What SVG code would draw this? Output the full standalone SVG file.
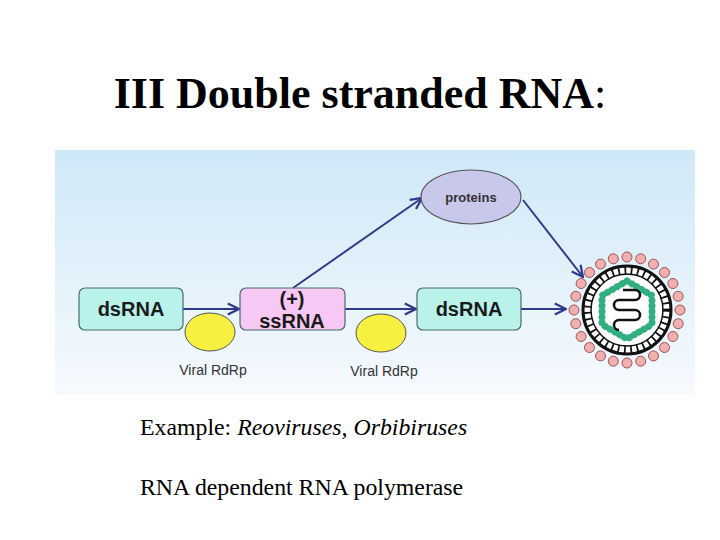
<svg xmlns="http://www.w3.org/2000/svg" width="720" height="540" viewBox="0 0 720 540">
<defs>
<linearGradient id="bg" x1="0" y1="0" x2="0" y2="1"><stop offset="0" stop-color="#cfe8f8"/><stop offset="1" stop-color="#f6fafd"/></linearGradient>
<marker id="ah" viewBox="0 0 10 10" refX="9" refY="5" markerWidth="7" markerHeight="7" orient="auto"><path d="M1,1 L9,5 L1,9" fill="none" stroke="#2e3a8c" stroke-width="1.6"/></marker>
<style>
.box{stroke:#4a6a6a;stroke-width:1.2}
.bl{font-family:"Liberation Sans",Arial,sans-serif;font-weight:bold;font-size:20px;fill:#1a1a1a;text-anchor:middle}
.sm{font-family:"Liberation Sans",Arial,sans-serif;font-size:14px;fill:#333;text-anchor:middle}
.ar{stroke:#2e3a8c;stroke-width:2;fill:none;marker-end:url(#ah)}
.tm{font-family:"Liberation Serif","Times New Roman",serif;font-size:23.8px;fill:#000}
</style>
</defs>
<rect width="720" height="540" fill="#fff"/>
<text x="360" y="108" text-anchor="middle" font-family="Liberation Serif,Times New Roman,serif" font-size="44" font-weight="bold">III Double stranded RNA<tspan font-weight="normal">:</tspan></text>
<rect x="55" y="150" width="640" height="245" fill="url(#bg)"/>
<g id="connectors">
<line class="ar" x1="183" y1="309" x2="239" y2="309"/>
<line class="ar" x1="345" y1="309" x2="416" y2="309"/>
<line class="ar" x1="521" y1="309" x2="566" y2="309"/>
<line class="ar" x1="293" y1="288" x2="422" y2="198"/>
<line class="ar" x1="523" y1="200" x2="583" y2="277"/>
</g>
<g id="dsRNA1"><rect class="box" x="79" y="288" width="104" height="42" rx="6" fill="#b8f2ea"/><text class="bl" x="131" y="316">dsRNA</text></g>
<g id="ssRNA"><rect class="box" x="240" y="288" width="105" height="42" rx="6" fill="#f8c8f4"/><text class="bl" x="292" y="306">(+)</text><text class="bl" x="292" y="328">ssRNA</text></g>
<g id="dsRNA2"><rect class="box" x="417" y="288" width="104" height="42" rx="6" fill="#b8f2ea"/><text class="bl" x="469" y="316">dsRNA</text></g>
<g id="proteins"><ellipse cx="471" cy="197" rx="50" ry="27" fill="#c8c8ec" stroke="#555" stroke-width="1.2"/><text x="471" y="202" text-anchor="middle" font-family="Liberation Sans,Arial,sans-serif" font-weight="bold" font-size="13" fill="#333">proteins</text></g>
<g id="rdrp1"><ellipse cx="210" cy="332" rx="25" ry="19" fill="#f8f040" stroke="#555"/><text class="sm" x="213" y="375">Viral RdRp</text></g>
<g id="rdrp2"><ellipse cx="381" cy="333" rx="25" ry="19" fill="#f8f040" stroke="#555"/><text class="sm" x="384" y="376">Viral RdRp</text></g>
<g id="virus" transform="translate(627,310)">
<g fill="#f0b0b0" stroke="#a05050" stroke-width="1">
<circle cx="53" cy="0" r="5"/><circle cx="51.2" cy="13.7" r="5"/><circle cx="45.9" cy="26.5" r="5"/><circle cx="37.5" cy="37.5" r="5"/><circle cx="26.5" cy="45.9" r="5"/><circle cx="13.7" cy="51.2" r="5"/><circle cx="0" cy="53" r="5"/><circle cx="-13.7" cy="51.2" r="5"/><circle cx="-26.5" cy="45.9" r="5"/><circle cx="-37.5" cy="37.5" r="5"/><circle cx="-45.9" cy="26.5" r="5"/><circle cx="-51.2" cy="13.7" r="5"/><circle cx="-53" cy="0" r="5"/><circle cx="-51.2" cy="-13.7" r="5"/><circle cx="-45.9" cy="-26.5" r="5"/><circle cx="-37.5" cy="-37.5" r="5"/><circle cx="-26.5" cy="-45.9" r="5"/><circle cx="-13.7" cy="-51.2" r="5"/><circle cx="0" cy="-53" r="5"/><circle cx="13.7" cy="-51.2" r="5"/><circle cx="26.5" cy="-45.9" r="5"/><circle cx="37.5" cy="-37.5" r="5"/><circle cx="45.9" cy="-26.5" r="5"/><circle cx="51.2" cy="-13.7" r="5"/>
</g>
<circle r="44" fill="#fff" stroke="#111" stroke-width="3"/>
<circle r="36" fill="none" stroke="#111" stroke-width="1.5"/>
<circle r="40" fill="none" stroke="#111" stroke-width="9" stroke-dasharray="1.8 4.6"/>
<polygon points="0,-29 25,-14.5 25,14.5 0,29 -25,14.5 -25,-14.5" fill="#fff" stroke="#2a9a70" stroke-width="2"/>
<polygon points="0,-29 25,-14.5 25,14.5 0,29 -25,14.5 -25,-14.5" fill="none" stroke="#30b080" stroke-width="7" stroke-dasharray="0.1 5.5" stroke-linecap="round"/>
<path d="M-4,-18 H8 A5,5 0 0 1 8,-8 H-8 A5,5 0 0 0 -8,2 H8 A5,5 0 0 1 8,12 H-8 A5,5 0 0 0 -8,22" fill="none" stroke="#111" stroke-width="2.5" transform="translate(0,-2)"/>
</g>
<text class="tm" x="140" y="435">Example: <tspan font-style="italic">Reoviruses, Orbibiruses</tspan></text>
<text class="tm" x="140" y="495">RNA dependent RNA polymerase</text>
</svg>
